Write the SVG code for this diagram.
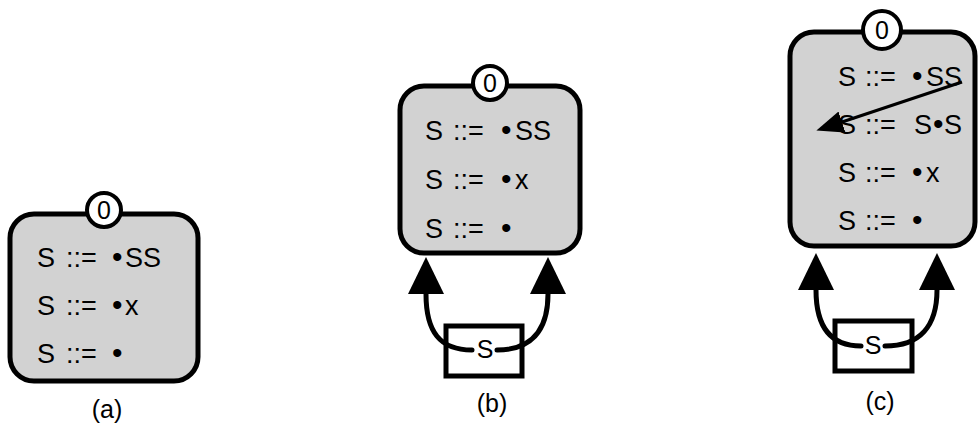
<svg xmlns="http://www.w3.org/2000/svg" width="978" height="432" viewBox="0 0 978 432">
<defs>
<style>
.box{fill:#d2d2d2;stroke:#000;stroke-width:5}
.num{fill:#fff;stroke:#000;stroke-width:4}
.sbox{fill:#fff;stroke:#000;stroke-width:5}
.t{font-family:"Liberation Sans",Arial,sans-serif;font-size:27px;fill:#000}
.b{font-size:30px}
.z{font-family:"Liberation Sans",Arial,sans-serif;font-size:25px;fill:#000;text-anchor:middle}
.lbl{font-family:"Liberation Sans",Arial,sans-serif;font-size:25px;fill:#000;text-anchor:middle}
.edge{fill:none;stroke:#000;stroke-width:5;stroke-linecap:round}
.thin{fill:none;stroke:#000;stroke-width:3}
</style>
<marker id="big" markerUnits="userSpaceOnUse" markerWidth="40" markerHeight="40" refX="0" refY="18" orient="auto" viewBox="0 0 40 36">
<path d="M0,0 L37,18 L0,36 Z" fill="#000"/>
</marker>
<marker id="small" markerUnits="userSpaceOnUse" markerWidth="30" markerHeight="24" refX="0" refY="11" orient="auto" viewBox="0 0 30 22">
<path d="M0,0 L27,11 L0,22 Z" fill="#000"/>
</marker>
</defs>

<g id="state-a">
<rect class="box" x="10" y="214" width="188" height="167" rx="24"/>
<circle class="num" cx="104" cy="210" r="17"/>
<text class="z" x="104" y="219">0</text>
<text class="t" y="267"><tspan x="37">S</tspan><tspan x="66">::=</tspan><tspan class="b" x="112">•</tspan><tspan x="125">SS</tspan></text>
<text class="t" y="315"><tspan x="37">S</tspan><tspan x="66">::=</tspan><tspan class="b" x="112">•</tspan><tspan x="125">x</tspan></text>
<text class="t" y="363"><tspan x="37">S</tspan><tspan x="66">::=</tspan><tspan class="b" x="112">•</tspan></text>
<text class="lbl" x="107" y="418">(a)</text>
</g>

<g id="state-b">
<rect class="box" x="400" y="86" width="180" height="167" rx="24"/>
<circle class="num" cx="490" cy="83" r="17"/>
<text class="z" x="490" y="92">0</text>
<text class="t" y="140"><tspan x="425">S</tspan><tspan x="453">::=</tspan><tspan class="b" x="501">•</tspan><tspan x="515">SS</tspan></text>
<text class="t" y="189"><tspan x="425">S</tspan><tspan x="453">::=</tspan><tspan class="b" x="501">•</tspan><tspan x="515">x</tspan></text>
<text class="t" y="238"><tspan x="425">S</tspan><tspan x="453">::=</tspan><tspan class="b" x="501">•</tspan></text>
<text class="lbl" x="492" y="412">(b)</text>
</g>

<g id="nonterm-b">
<rect class="sbox" x="446" y="326" width="76" height="50"/>
<text class="z" x="485" y="358">S</text>
</g>

<g id="state-c">
<rect class="box" x="790" y="32" width="185" height="214" rx="24"/>
<circle class="num" cx="882" cy="30" r="19"/>
<text class="z" x="882" y="39">0</text>
<text class="t" y="86"><tspan x="838">S</tspan><tspan x="865">::=</tspan><tspan class="b" x="912">•</tspan><tspan x="926">SS</tspan></text>
<text class="t" y="134"><tspan x="838">S</tspan><tspan x="865">::=</tspan><tspan x="914">S</tspan><tspan class="b" x="933">•</tspan><tspan x="944">S</tspan></text>
<text class="t" y="182"><tspan x="838">S</tspan><tspan x="865">::=</tspan><tspan class="b" x="912">•</tspan><tspan x="926">x</tspan></text>
<text class="t" y="230"><tspan x="838">S</tspan><tspan x="865">::=</tspan><tspan class="b" x="912">•</tspan></text>
<text class="lbl" x="880" y="410">(c)</text>
</g>

<g id="nonterm-c">
<rect class="sbox" x="835" y="321" width="77" height="50"/>
<text class="z" x="873" y="354">S</text>
</g>

<g id="connectors">
<path class="edge" d="M472,350 C440,350 426,332 426,294" marker-end="url(#big)"/>
<path class="edge" d="M497,350 C530,350 548,332 548,294" marker-end="url(#big)"/>
<path class="edge" d="M861,346 C830,346 816,326 816,290" marker-end="url(#big)"/>
<path class="edge" d="M885,346 C920,346 937,326 937,290" marker-end="url(#big)"/>
<path class="thin" d="M962,82 L842,122" marker-end="url(#small)"/>
</g>
</svg>
